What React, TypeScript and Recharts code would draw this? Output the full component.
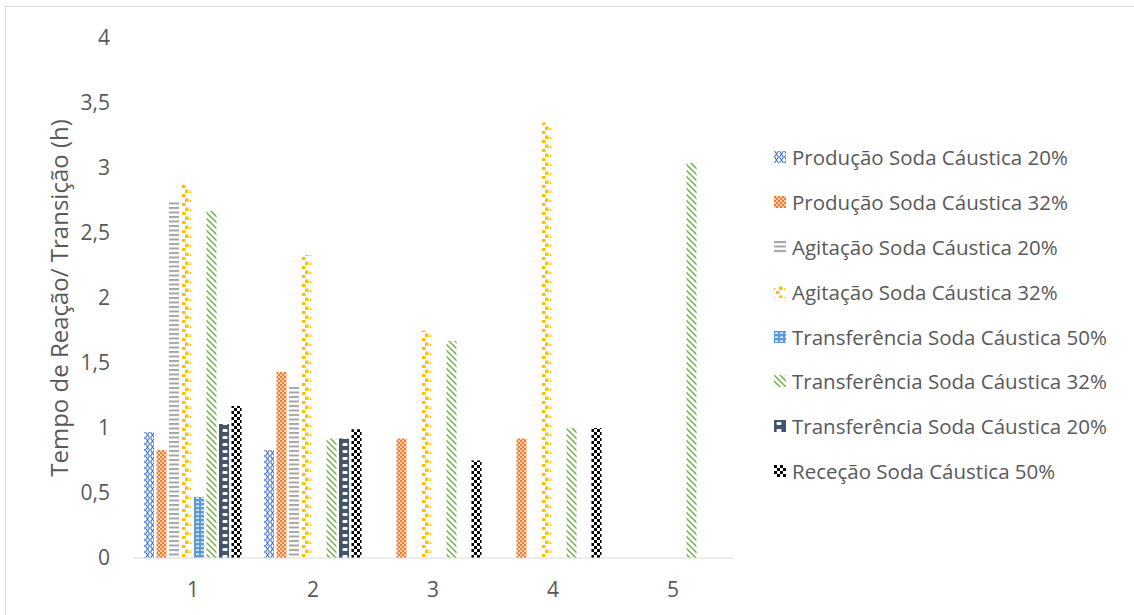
import { Bar, BarChart, XAxis, YAxis } from "recharts";

const categories = ["1", "2", "3", "4", "5"];
const producao20 = [0.97, 0.83, null, null, null];
const producao32 = [0.83, 1.43, 0.92, 0.92, null];
const agitacao20 = [2.74, 1.33, null, null, null];
const agitacao32 = [2.87, 2.33, 1.75, 3.35, null];
const transf50 = [0.47, null, null, null, null];
const transf32 = [2.67, 0.92, 1.67, 1.0, 3.04];
const transf20 = [1.03, 0.92, null, null, null];
const rececao50 = [1.17, 0.99, 0.75, 1.0, null];
const yTicks = [0, 0.5, 1, 1.5, 2, 2.5, 3, 3.5, 4];

const series = [
  { key: "p20", name: "Produção Soda Cáustica 20%", values: producao20 },
  { key: "p32", name: "Produção Soda Cáustica 32%", values: producao32 },
  { key: "a20", name: "Agitação Soda Cáustica 20%", values: agitacao20 },
  { key: "a32", name: "Agitação Soda Cáustica 32%", values: agitacao32 },
  { key: "t50", name: "Transferência Soda Cáustica 50%", values: transf50 },
  { key: "t32", name: "Transferência Soda Cáustica 32%", values: transf32 },
  { key: "t20", name: "Transferência Soda Cáustica 20%", values: transf20 },
  { key: "r50", name: "Receção Soda Cáustica 50%", values: rececao50 },
];

const data = categories.map((c, i) => {
  const row: Record<string, string | number | null> = { cat: c };
  series.forEach((s) => (row[s.key] = s.values[i]));
  return row;
});

const FONT = "'Open Sans', sans-serif";
const TEXT = "#595959";

function Patterns({ prefix = "pat" }: { prefix?: string }) {
  return (
    <defs>
      <pattern id={`${prefix}-p20`} width="5" height="6" patternUnits="userSpaceOnUse">
        <rect width="5" height="6" fill="#fff" />
        <path d="M0.5,0 L4.5,6 M4.5,0 L0.5,6" stroke="#4472C4" strokeWidth="1.1" />
      </pattern>
      <pattern id={`${prefix}-p32`} width="4" height="4" patternUnits="userSpaceOnUse">
        <rect width="4" height="4" fill="#F8CBAD" />
        <rect width="2" height="2" fill="#ED7D31" />
        <rect x="2" y="2" width="2" height="2" fill="#ED7D31" />
      </pattern>
      <pattern id={`${prefix}-a20`} width="10" height="4.5" patternUnits="userSpaceOnUse">
        <rect width="10" height="4.5" fill="#fff" />
        <rect x="0" y="0" width="10" height="2" fill="#A5A5A5" />
      </pattern>
      <pattern id={`${prefix}-a32`} width="10" height="9" patternUnits="userSpaceOnUse">
        <rect width="10" height="9" fill="#fff" />
        <rect x="5" y="0.5" width="3.5" height="3.5" fill="#FFC000" />
        <rect x="2" y="5" width="3.5" height="3" fill="#FFC000" />
        <rect x="0" y="2" width="1" height="2" fill="#FFC000" />
      </pattern>
      <pattern id={`${prefix}-t50`} width="5" height="4" patternUnits="userSpaceOnUse">
        <rect width="5" height="4" fill="#5B9BD5" />
        <rect x="1" y="1.5" width="3" height="1.3" fill="#fff" />
      </pattern>
      <pattern id={`${prefix}-t32`} width="6" height="6" patternUnits="userSpaceOnUse">
        <rect width="6" height="6" fill="#fff" />
        <path d="M-3,3 L3,9 M0,0 L6,6 M3,-3 L9,3" stroke="#70AD47" strokeWidth="1.4" />
      </pattern>
      <pattern id={`${prefix}-t20`} width="10" height="7" patternUnits="userSpaceOnUse">
        <rect width="10" height="7" fill="#44546A" />
        <rect x="2.5" y="2" width="5" height="3" rx="1" fill="#fff" />
      </pattern>
      <pattern id={`${prefix}-r50`} width="6" height="6" patternUnits="userSpaceOnUse">
        <rect width="6" height="6" fill="#fff" />
        <rect width="3" height="3" fill="#000" />
        <rect x="3" y="3" width="3" height="3" fill="#000" />
      </pattern>
    </defs>
  );
}

function LegendBox() {
  return (
    <div
      style={{
        position: "absolute",
        left: 774,
        top: 135,
        fontFamily: FONT,
        fontSize: 20.5,
        color: TEXT,
        whiteSpace: "nowrap",
      }}
    >
      <svg width={0} height={0} style={{ position: "absolute" }}>
        <Patterns prefix="leg" />
      </svg>
      {series.map((s) => (
        <div key={s.key} style={{ display: "flex", alignItems: "center", height: 44.8 }}>
          <svg width={12} height={12} style={{ marginRight: 6 }}>
            <rect width={12} height={12} fill={`url(#leg-${s.key})`} />
          </svg>
          <span>{s.name}</span>
        </div>
      ))}
    </div>
  );
}

export default function App() {
  return (
    <div style={{ position: "absolute", left: 0, top: 0, width: 1134, height: 615, background: "#fff", overflow: "hidden" }}>
      <div style={{ position: "absolute", left: 5, top: 6, width: 1140, height: 620, border: "1px solid #D9D9D9" }} />
      <BarChart
        width={1134}
        height={615}
        data={data}
        margin={{ top: 38, right: 401, bottom: 27, left: 33 }}
        barSize={10}
        barGap={2.5}
      >
        <Patterns />
        <XAxis
          dataKey="cat"
          height={30}
          tickLine={false}
          axisLine={{ stroke: "#D9D9D9" }}
          tick={{ fill: TEXT, fontSize: 21, fontFamily: FONT }}
          tickSize={0}
          tickMargin={24}
        />
        <YAxis
          width={100}
          domain={[0, 4]}
          ticks={yTicks}
          axisLine={false}
          tickLine={false}
          tickSize={0}
          tickMargin={23}
          tick={{ fill: TEXT, fontSize: 21, fontFamily: FONT }}
          tickFormatter={(v: number) => String(v).replace(".", ",")}
          label={{
            content: ({ viewBox }: any) => {
              const x = viewBox.x + 25;
              const y = viewBox.y + viewBox.height / 2;
              return (
                <text
                  x={x}
                  y={y}
                  transform={`rotate(-90, ${x}, ${y})`}
                  textAnchor="middle"
                  dominantBaseline="central"
                  fill={TEXT}
                  fontSize={24}
                  fontFamily={FONT}
                >
                  Tempo de Reação/ Transição (h)
                </text>
              );
            },
          }}
        />
        {series.map((s) => (
          <Bar
            key={s.key}
            dataKey={s.key}
            name={s.name}
            fill={`url(#pat-${s.key})`}
            isAnimationActive={false}
          />
        ))}
      </BarChart>
      <LegendBox />
    </div>
  );
}
